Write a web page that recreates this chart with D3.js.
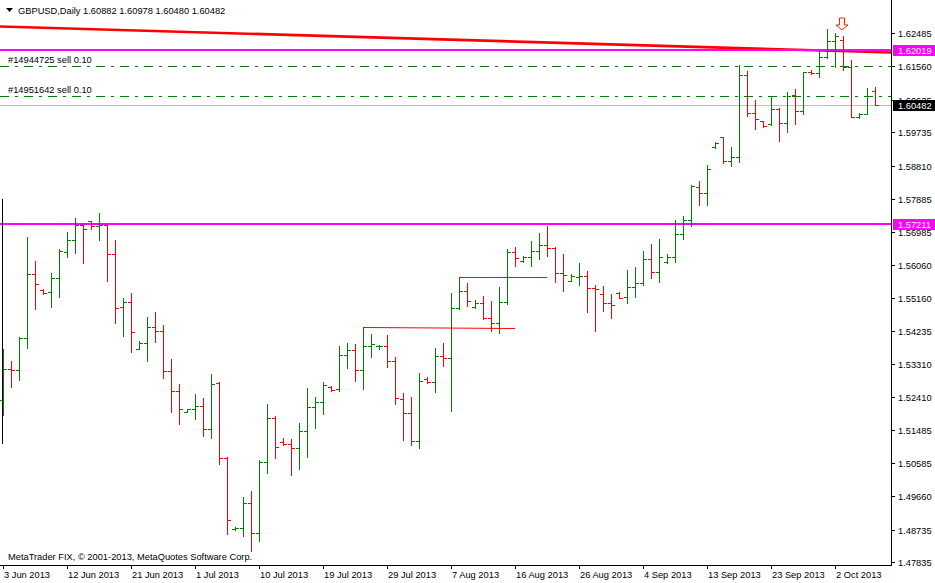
<!DOCTYPE html>
<html><head><meta charset="utf-8">
<script src="https://cdn.jsdelivr.net/npm/d3@7/dist/d3.min.js"></script>
<style>
html,body{margin:0;padding:0;background:#fff;}
svg text{font-family:"Liberation Sans",Arial,sans-serif;font-size:9.3px;}
</style></head>
<body>
<svg id="c" width="935" height="583"></svg>
<script>
// ---- data (GBPUSD Daily, bars Mon-Fri + Sunday) ----
const opens = [1.52327,1.53177,1.53149,1.54052,1.55815,1.55380,1.55308,1.55696,1.56415,1.56747,
1.57171,1.57273,1.57143,1.57171,1.56368,1.54893,1.55031,1.53731,1.53897,1.54339,
1.54237,1.53122,1.52568,1.52003,1.52070,1.52161,1.51516,1.52784,1.50714,1.48748,
1.48776,1.49468,1.48638,1.50603,1.51821,1.51165,1.51101,1.50985,1.51469,1.52125,
1.52264,1.52695,1.52623,1.53564,1.53703,1.53149,1.53822,1.53814,1.53822,1.53407,
1.52355,1.51967,1.51192,1.52900,1.52817,1.53545,1.53481,1.54865,1.55344,1.54893,
1.55004,1.54589,1.54450,1.55031,1.56415,1.56183,1.56277,1.56443,1.56617,1.56526,
1.55842,1.55629,1.55740,1.55751,1.55419,1.55253,1.55004,1.55280,1.55170,1.55447,
1.55557,1.56222,1.55862,1.56139,1.56285,1.56922,1.57301,1.58223,1.58048,1.59321,
1.59598,1.58951,1.59053,1.61331,1.60271,1.60041,1.59958,1.60381,1.59994,1.60769,
1.60334,1.61397,1.61386,1.61829,1.62264,1.62283,1.61552,1.60152,1.60243,1.60882];
const highs = [1.53739,1.53407,1.54071,1.56847,1.56174,1.55391,1.55851,1.56498,1.56977,1.57365,
1.57185,1.57282,1.57511,1.57199,1.56756,1.55159,1.55297,1.53960,1.54633,1.54771,
1.54403,1.53462,1.52770,1.52078,1.52493,1.52391,1.53047,1.52812,1.50758,1.48812,
1.49642,1.49809,1.50658,1.52217,1.51884,1.51267,1.51248,1.51691,1.52659,1.52410,
1.52825,1.52715,1.53822,1.53897,1.53877,1.54348,1.54154,1.53844,1.54126,1.53526,
1.52529,1.52419,1.53083,1.52955,1.53767,1.53897,1.55280,1.55723,1.55557,1.55095,
1.55206,1.55067,1.55455,1.56507,1.56570,1.56305,1.56728,1.56949,1.57151,1.56554,
1.56377,1.55806,1.56127,1.55898,1.55510,1.55483,1.55261,1.55316,1.55917,1.56008,
1.56443,1.56653,1.56783,1.56368,1.57309,1.57420,1.58270,1.58389,1.58832,1.59468,
1.59607,1.59330,1.61599,1.61433,1.60631,1.60049,1.60733,1.60409,1.60844,1.60935,
1.61397,1.61461,1.61995,1.62587,1.62493,1.62402,1.61738,1.60263,1.60954,1.60978];
const lows = [1.51912,1.52695,1.52881,1.53775,1.54854,1.55269,1.54910,1.55186,1.56294,1.56404,
1.56127,1.57068,1.56756,1.55629,1.54467,1.54099,1.53664,1.53725,1.53415,1.53941,
1.52944,1.52003,1.51655,1.51987,1.51810,1.51339,1.51284,1.50542,1.48610,1.48729,
1.48571,1.48134,1.48433,1.50315,1.50730,1.51082,1.50260,1.50417,1.50758,1.51561,
1.51948,1.52585,1.52568,1.53221,1.52861,1.52623,1.53531,1.53747,1.53249,1.52208,
1.51220,1.51082,1.51007,1.52806,1.52557,1.53277,1.52031,1.54838,1.54937,1.54882,
1.54561,1.54245,1.54190,1.54998,1.56044,1.56155,1.56044,1.56238,1.56321,1.55602,
1.55352,1.55613,1.55519,1.54771,1.54245,1.54799,1.54605,1.55142,1.55020,1.55186,
1.55519,1.55696,1.55602,1.56127,1.56147,1.56783,1.57151,1.57733,1.57733,1.59294,
1.58895,1.58812,1.58906,1.60196,1.59836,1.59892,1.59952,1.59504,1.59753,1.59958,
1.60251,1.61342,1.61259,1.61785,1.61552,1.61461,1.60152,1.60124,1.60235,1.60480];
const closes = [1.53185,1.53149,1.54057,1.55815,1.55530,1.55280,1.55696,1.56443,1.56747,1.57171,
1.57052,1.57151,1.57163,1.56368,1.54865,1.55031,1.54201,1.53897,1.54339,1.54237,
1.53122,1.52568,1.52070,1.52070,1.52161,1.51516,1.52770,1.50714,1.48992,1.48776,
1.49468,1.48638,1.50611,1.51821,1.51018,1.51101,1.50990,1.51469,1.52125,1.52264,
1.52737,1.52604,1.53564,1.53703,1.53149,1.53822,1.53877,1.53830,1.53407,1.52369,
1.51967,1.51192,1.52845,1.52817,1.53545,1.53481,1.54865,1.55344,1.55067,1.55020,
1.54589,1.54450,1.55031,1.56415,1.56249,1.56285,1.56443,1.56626,1.56526,1.55842,
1.55779,1.55759,1.55759,1.55419,1.55391,1.55020,1.54948,1.55159,1.55447,1.55566,
1.56222,1.55862,1.56277,1.56277,1.56922,1.57301,1.58250,1.58048,1.58729,1.59449,
1.58951,1.59053,1.61331,1.60271,1.60113,1.59919,1.60381,1.59994,1.60733,1.60334,
1.61392,1.61370,1.61829,1.62264,1.62402,1.61552,1.60168,1.60235,1.60741,1.60482];

const dateTickIndex = [0,8,16,24,32,40,48,56,64,72,80,88,96,104];
const dateTickLabels = ["3 Jun 2013","12 Jun 2013","21 Jun 2013","1 Jul 2013","10 Jul 2013","19 Jul 2013",
  "29 Jul 2013","7 Aug 2013","16 Aug 2013","26 Aug 2013","4 Sep 2013","13 Sep 2013","23 Sep 2013","2 Oct 2013"];
const priceTicks = [1.62485,1.61560,1.60635,1.59735,1.58810,1.57885,1.56985,1.56060,1.55160,
  1.54235,1.53310,1.52410,1.51485,1.50585,1.49660,1.48735,1.47835];

const maIndex = [-1, 111];
const maValue = [1.62669, 1.61944];
const hLevels = [1.62019, 1.57211];          // magenta horizontal lines
const orderLevels = [1.61565, 1.60733];     // sell orders
const orderLabels = ["#14944725 sell 0.10", "#14951642 sell 0.10"];
const bidPrice = 1.60482;
const trendFrom = [45, 57];
const trendTo = [64, 68];
const trendStart = [1.54348, 1.55732];
const trendEnd = [1.54320, 1.55732];
const arrowIndex = 105;
const arrowPrice = 1.62568;
const leftMarkerRange = [1.57885, 1.51100]; // black vertical marker at the left edge
const header = "GBPUSD,Daily  1.60882 1.60978 1.60480 1.60482";
const copyright = "MetaTrader FIX, \u00A9 2001-2013, MetaQuotes Software Corp.";

// ---- layout ----
const W = 935, H = 583;
const plotRight = 891, plotBottom = 565;
const svg = d3.select("#c");
svg.append("rect").attr("width", W).attr("height", H).attr("fill", "#fff");

const x = d3.scaleLinear().domain([0, 109]).range([3, 875]);
const y = d3.scaleLinear().domain([1.47835, 1.62485]).range([562.3, 33]);
const px = i => Math.round(x(i));
const py = v => Math.round(y(v));

svg.append("clipPath").attr("id", "plot").append("rect")
  .attr("x", 0).attr("y", 0).attr("width", plotRight).attr("height", plotBottom);
const g = svg.append("g").attr("clip-path", "url(#plot)");

// moving-average style red line
g.append("path")
  .attr("d", d3.line().x((d, k) => x(maIndex[k])).y((d, k) => y(maValue[k]))(maValue))
  .attr("stroke", "#ff0000").attr("stroke-width", 2.6).attr("fill", "none");

// magenta levels
g.selectAll(".lvl").data(hLevels).enter().append("line")
  .attr("x1", 0).attr("x2", plotRight)
  .attr("y1", d => py(d)).attr("y2", d => py(d))
  .attr("stroke", "#ff00ff").attr("stroke-width", 2);

// order lines
g.selectAll(".ord").data(orderLevels).enter().append("line")
  .attr("x1", 0).attr("x2", plotRight)
  .attr("y1", d => py(d) + 0.5).attr("y2", d => py(d) + 0.5)
  .attr("stroke", "#008000").attr("stroke-width", 1)
  .attr("stroke-dasharray", "9,6,3,6");
g.selectAll(".ordt").data(orderLevels).enter().append("text")
  .attr("x", 8).attr("y", d => py(d) - 3)
  .attr("fill", "#000").text((d, k) => orderLabels[k]);

// bid line
g.append("line").attr("x1", 0).attr("x2", plotRight)
  .attr("y1", py(bidPrice) + 0.5).attr("y2", py(bidPrice) + 0.5)
  .attr("stroke", "#c0c0c0").attr("stroke-width", 1);

// trend lines
g.selectAll(".tr").data(trendFrom).enter().append("line")
  .attr("x1", (d, k) => px(trendFrom[k])).attr("x2", (d, k) => px(trendTo[k]))
  .attr("y1", (d, k) => y(trendStart[k]) + 0.5).attr("y2", (d, k) => y(trendEnd[k]) + 0.5)
  .attr("stroke", "#ff0000").attr("stroke-width", 1);

// left-edge black marker
g.append("rect").attr("x", 2).attr("y", py(leftMarkerRange[0]))
  .attr("width", 1).attr("height", py(leftMarkerRange[1]) - py(leftMarkerRange[0]))
  .attr("fill", "#000").attr("shape-rendering", "crispEdges");

// OHLC bars
const bars = g.append("g").attr("shape-rendering", "crispEdges");
opens.forEach((o, i) => {
  const c = closes[i];
  const col = c >= o ? "#008000" : "#ff0000";
  const X = px(i);
  const yh = py(highs[i]), yl = py(lows[i]);
  bars.append("rect").attr("x", X).attr("y", yh).attr("width", 1).attr("height", Math.max(1, yl - yh + 1)).attr("fill", col);
  bars.append("rect").attr("x", X - 3).attr("y", py(o)).attr("width", 3).attr("height", 1).attr("fill", col);
  bars.append("rect").attr("x", X + 1).attr("y", py(c)).attr("width", 3).attr("height", 1).attr("fill", col);
});

// arrow (hollow down arrow) above bar
const ax = px(arrowIndex) - 1, ay = y(arrowPrice);
g.append("path")
  .attr("d", `M${ax-2.5},${ay-12} L${ax+2.5},${ay-12} L${ax+2.5},${ay-5} L${ax+6},${ay-5} L${ax},${ay} L${ax-6},${ay-5} L${ax-2.5},${ay-5} Z`)
  .attr("fill", "#fff").attr("stroke", "#ff2000").attr("stroke-width", 1);

// header
svg.append("path").attr("d", "M6,8 L13,8 L9.5,12 Z").attr("fill", "#000");
svg.append("text").attr("x", 18).attr("y", 14).attr("fill", "#000").text(header);
// copyright
svg.append("text").attr("x", 8).attr("y", 560).attr("fill", "#000").text(copyright);

// axes frame
svg.append("line").attr("x1", plotRight + 0.5).attr("x2", plotRight + 0.5).attr("y1", 0).attr("y2", plotBottom + 1)
  .attr("stroke", "#000");
svg.append("line").attr("x1", 0).attr("x2", plotRight + 1).attr("y1", plotBottom + 0.5).attr("y2", plotBottom + 0.5)
  .attr("stroke", "#000");

// right price axis
const ra = svg.append("g");
priceTicks.forEach(v => {
  const yy = py(v);
  ra.append("line").attr("x1", plotRight + 1).attr("x2", plotRight + 4).attr("y1", yy + 0.5).attr("y2", yy + 0.5).attr("stroke", "#000");
  ra.append("text").attr("x", 898).attr("y", yy + 3.5).attr("fill", "#000").text(v.toFixed(5));
});
// price tags (drawn over the axis labels, as in the terminal)
function tag(v, bg) {
  const yy = py(v);
  ra.append("rect").attr("x", 893).attr("y", yy - 5).attr("width", 42).attr("height", 11).attr("fill", bg);
  ra.append("text").attr("x", 898).attr("y", yy + 3.5).attr("fill", "#fff").text(v.toFixed(5));
}
hLevels.forEach(v => tag(v, "#ff00ff"));
tag(bidPrice, "#000");

// bottom date axis
dateTickIndex.forEach((i, k) => {
  const X = px(i);
  svg.append("line").attr("x1", X + 0.5).attr("x2", X + 0.5).attr("y1", plotBottom).attr("y2", plotBottom + 4).attr("stroke", "#000");
  svg.append("text").attr("x", X + 1).attr("y", 577.5).attr("fill", "#000").text(dateTickLabels[k]);
});
</script>
</body></html>
